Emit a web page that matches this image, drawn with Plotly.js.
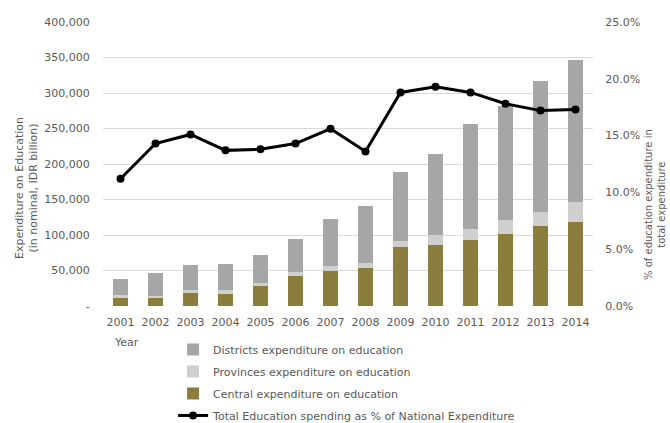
<!DOCTYPE html>
<html>
<head>
<meta charset="utf-8">
<script src="https://cdn.plot.ly/plotly-3.0.1.min.js"></script>
<style>html,body{margin:0;padding:0;background:#fff;}#chart{width:670px;height:423px;}</style>
</head>
<body>
<div id="chart"></div>
<script>
const years = ["2001","2002","2003","2004","2005","2006","2007","2008","2009","2010","2011","2012","2013","2014"];
const centralExp = [11000, 11000, 18500, 17000, 28000, 42000, 50000, 53000, 83500, 86000, 93000, 102000, 112000, 119000];
const provincesExp = [4000, 3500, 4000, 5500, 5000, 6000, 6000, 8000, 8500, 14000, 16000, 19000, 21000, 28000];
const districtsExp = [23000, 32000, 35500, 36500, 39000, 46000, 67000, 80000, 97000, 114000, 148000, 160000, 184000, 200000];
const pctNational = [11.2, 14.3, 15.1, 13.7, 13.8, 14.3, 15.6, 13.6, 18.8, 19.3, 18.8, 17.8, 17.2, 17.3];
const leftTickVals = [0, 50000, 100000, 150000, 200000, 250000, 300000, 350000, 400000];
const leftTickText = ["-", "50,000", "100,000", "150,000", "200,000", "250,000", "300,000", "350,000", "400,000"];
const rightTickVals = [0, 5, 10, 15, 20, 25];
const rightTickText = ["0.0%", "5.0%", "10.0%", "15.0%", "20.0%", "25.0%"];

const txt = "#595959";
const fam = "DejaVu Sans, Liberation Sans, Arial, sans-serif";
const font = {family: fam, size: 11, color: txt};

const traces = [
  {type: "bar", x: years, y: centralExp, name: "Central expenditure on education",
   marker: {color: "#8b7d3b"}, width: 0.42, legendrank: 3, legendgroup: "c", hoverinfo: "y"},
  {type: "bar", x: years, y: provincesExp, name: "Provinces expenditure on education",
   marker: {color: "#cfcfcf"}, width: 0.42, legendrank: 2, legendgroup: "p", hoverinfo: "y"},
  {type: "bar", x: years, y: districtsExp, name: "Districts expenditure on education",
   marker: {color: "#a6a6a6"}, width: 0.42, legendrank: 1, legendgroup: "d", hoverinfo: "y"},
  {type: "scatter", mode: "lines+markers", x: years, y: pctNational, yaxis: "y2",
   name: "Total Education spending as % of National Expenditure",
   line: {color: "#000000", width: 3}, marker: {color: "#000000", size: 8},
   legendrank: 4, legendgroup: "t"}
];

const layout = {
  width: 670, height: 423,
  margin: {l: 103, r: 77, t: 22, b: 117, autoexpand: false},
  paper_bgcolor: "#ffffff", plot_bgcolor: "#ffffff",
  font: font,
  barmode: "stack",
  showlegend: true,
  legend: {x: 0.143, y: -0.102, xanchor: "left", yanchor: "top", orientation: "v",
           font: font, tracegroupgap: 3,
           bgcolor: "rgba(0,0,0,0)", itemwidth: 30},
  xaxis: {type: "category", range: [-0.5, 13.5], showgrid: false, zeroline: false,
          showline: false, ticks: "outside", ticklen: 6, tickcolor: "rgba(0,0,0,0)",
          tickfont: font, fixedrange: true},
  yaxis: {range: [0, 400000], tickvals: leftTickVals, ticktext: leftTickText,
          showgrid: true, gridcolor: "#d9d9d9", gridwidth: 1, zeroline: false, showline: false,
          ticks: "outside", ticklen: 10, tickcolor: "rgba(0,0,0,0)", tickfont: font},
  yaxis2: {range: [0, 25], overlaying: "y", side: "right", tickvals: rightTickVals, ticktext: rightTickText,
           showgrid: false, zeroline: false, showline: false,
           ticks: "outside", ticklen: 9, tickcolor: "rgba(0,0,0,0)", tickfont: font},
  annotations: [
    {text: "Expenditure on Education<br>(in nominal, IDR billion)", xref: "paper", yref: "paper",
     x: (26 - 103) / 490, y: (306 - 188) / 284, textangle: -90, showarrow: false,
     font: font, xanchor: "center", yanchor: "middle"},
    {text: "% of education expenditure in<br>total expenditure", xref: "paper", yref: "paper",
     x: (655 - 103) / 490, y: (306 - 205) / 284, textangle: -90, showarrow: false,
     font: {family: fam, size: 10, color: txt}, xanchor: "center", yanchor: "middle"},
    {text: "Year", xref: "paper", yref: "paper", x: (112 - 103) / 490, y: (306 - 342) / 284,
     showarrow: false, xanchor: "left", yanchor: "middle", font: font}
  ]
};

Plotly.newPlot("chart", traces, layout, {displayModeBar: false, staticPlot: true});
</script>
</body>
</html>
